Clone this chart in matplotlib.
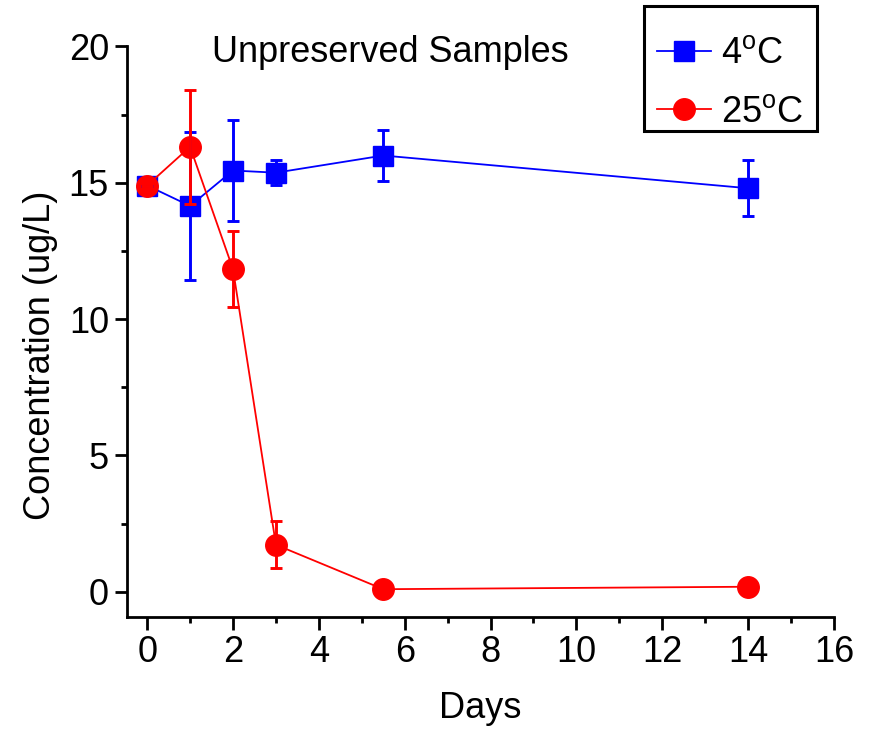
import numpy as np
import matplotlib
matplotlib.use("Agg")
import matplotlib.pyplot as plt
from matplotlib.patches import Rectangle
from matplotlib.ticker import MultipleLocator

plt.rcParams['font.family'] = ['Liberation Sans', 'DejaVu Sans']
plt.rcParams['mathtext.fontset'] = 'custom'
plt.rcParams['mathtext.rm'] = 'Liberation Sans'

# concentration (ug/L) vs storage time, unpreserved samples
days = [0, 1, 2, 3, 5.5, 14]
cold_mean = [14.9, 14.15, 15.45, 15.37, 16.0, 14.8]
cold_err = [0.0, 2.7, 1.87, 0.45, 0.94, 1.03]
warm_mean = [14.9, 16.32, 11.83, 1.72, 0.09, 0.18]
warm_err = [0.0, 2.1, 1.4, 0.87, 0.0, 0.0]

labels = [r'4$^{\rm o}$C', r'25$^{\rm o}$C']
colors = ['#0000ff', '#ff0000']

W, H = 869, 732
fig = plt.figure(figsize=(W / 100, H / 100), dpi=100)
ax = fig.add_axes([0.1461, 0.1571, 0.8136, 0.7794])

fs = 26

ax.plot(days, cold_mean, '-s', color=colors[0], lw=1.3, ms=14.5,
        mec=colors[0], zorder=2, label=labels[0])
ax.plot(days, warm_mean, '-o', color=colors[1], lw=1.3, ms=15.5,
        mec=colors[1], zorder=3, label=labels[1])

# error bars go on top of the markers
ax.errorbar(days, cold_mean, yerr=cold_err, fmt='none', ecolor=colors[0],
            elinewidth=2.1, capsize=4, capthick=2.1, zorder=4)
ax.errorbar(days, warm_mean, yerr=warm_err, fmt='none', ecolor=colors[1],
            elinewidth=2.1, capsize=4, capthick=2.1, zorder=4)

ax.set_xlim(-0.47, 16)
ax.set_ylim(-0.93, 20)
ax.xaxis.set_major_locator(MultipleLocator(2))
ax.xaxis.set_minor_locator(MultipleLocator(1))
ax.yaxis.set_major_locator(MultipleLocator(5))
ax.yaxis.set_minor_locator(MultipleLocator(2.5))

for s in ['top', 'right']:
    ax.spines[s].set_visible(False)
for s in ['left', 'bottom']:
    ax.spines[s].set_linewidth(2)

ax.tick_params(which='major', direction='out', length=9, width=2,
               labelsize=fs, pad=4)
ax.tick_params(which='minor', direction='out', length=4.5, width=2)

ax.set_xlabel('Days', fontsize=fs, va='top')
ax.xaxis.set_label_coords(0.5, -0.13)
ax.set_ylabel('Concentration (ug/L)', fontsize=fs)
ax.yaxis.set_label_coords(-0.097, 0.459)

ax.text(0.372, 0.973, 'Unpreserved Samples', transform=ax.transAxes,
        ha='center', va='baseline', fontsize=fs)

# legend entries without frame, box drawn separately
leg = ax.legend(loc='center left', bbox_to_anchor=(657 / W, 1 - 83 / H),
                bbox_transform=fig.transFigure, fontsize=fs, frameon=False,
                borderaxespad=0, borderpad=0, handlelength=1.5,
                handletextpad=0.28, labelspacing=0.64)
fig.add_artist(Rectangle((644 / W, 1 - 131 / H), 173 / W, 125 / H,
                         transform=fig.transFigure, fill=False,
                         edgecolor='black', lw=2.2, zorder=5))

fig.savefig('out.png', dpi=100)
